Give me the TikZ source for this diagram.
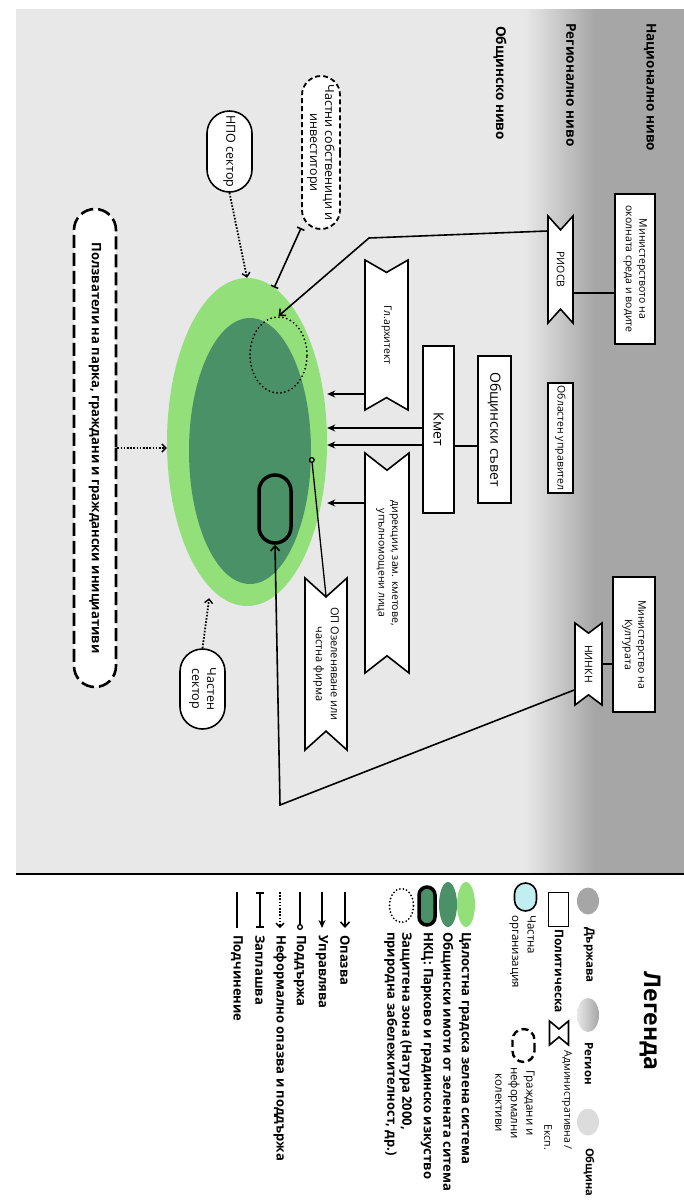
\documentclass[tikz,border=0pt]{standalone}
\usepackage{fontspec}
\setmainfont{Open Sans}
\usepackage{tikz}
\usetikzlibrary{shapes.geometric, shapes.misc, shapes.symbols, arrows.meta}
\usetikzlibrary{positioning}

\definecolor{obshtina}{HTML}{E8E8E8}
\definecolor{darzhava}{HTML}{A6A6A6}
\definecolor{zelena}{HTML}{93E07B}
\definecolor{imoti}{HTML}{4B9167}
\definecolor{chastna}{HTML}{C2EEF1}

\tikzstyle{upr} = [line width=1.6pt,-{Stealth[length=8pt,width=7pt]}]
\tikzstyle{opaz} = [line width=1.6pt,-{Straight Barb[length=5pt,width=9pt]}]
\tikzstyle{neform} = [line width=1.8pt,dash pattern=on 1.6pt off 1.6pt,-{Straight Barb[length=4pt,width=8pt,line width=1.4pt]}]
\tikzstyle{zapl} = [line width=1.6pt,{Bar[width=8pt]}-{Bar[width=8pt]}]
\tikzstyle{podd} = [line width=1.3pt,-{Circle[open,length=6pt]}]
\tikzstyle{podch} = [line width=1.6pt]
\tikzset{
  rot/.style={rotate=-90},
  polbox/.style={rot, draw, line width=1.6pt, fill=white, rectangle, inner sep=1pt, align=center,
    font=\fontsize{10.5}{13.5}\selectfont},
  admbox/.style={rot, draw, line width=1.6pt, fill=white, signal, signal to=nowhere,
    signal from=west and east, inner sep=1pt, align=center, font=\fontsize{10.5}{13.5}\selectfont},
  orgbox/.style={rot, draw, line width=1.6pt, fill=white, rounded rectangle, inner sep=1pt,
    align=center, font=\fontsize{12.5}{15}\selectfont},
  grbox/.style={orgbox, dashed},
  lvl/.style={rot, anchor=west, inner sep=0pt, font=\bfseries\fontsize{13.5}{16}\selectfont},
  leg/.style={rot, anchor=west, inner sep=0pt, align=left, font=\bfseries\fontsize{13}{15}\selectfont},
  legs/.style={leg, font=\fontsize{11.5}{15.5}\selectfont},
}

\begin{document}
\begin{tikzpicture}[x=1pt, y=-1pt]
    \useasboundingbox (0,0) rectangle (684,1200);

    % levels
    \fill[obshtina] (16,9) rectangle (684,874);
    \shade[left color=obshtina, right color=darzhava] (525,9) rectangle (595,874);
    \fill[darzhava] (595,9) rectangle (684,874);
    \draw[line width=2.5pt] (16,874) -- (684,874);

    \node[lvl] (nat) at (650,23) {Национално ниво};
    \node[lvl] (reg) at (571,23) {Регионално ниво};
    \node[lvl] (mun) at (500,26) {Общинско ниво};

    % green system
    \node[ellipse, fill=zelena, minimum width=160pt, minimum height=328pt] (gz) at (247,442) {};
    \node[ellipse, fill=imoti, minimum width=122pt, minimum height=266pt] (oi) at (250,451) {};
    \node[ellipse, draw, line width=2pt, line cap=round, dash pattern=on 0pt off 4pt,
      minimum width=57pt, minimum height=76pt] (zz) at (278.5,355) {};
    \node[draw, line width=3.5pt, rounded corners=16pt, minimum width=32pt, minimum height=68pt] (nkc) at (275,509) {};

    % national and regional
    \node[polbox, minimum width=150pt, minimum height=40pt] (minenv) at (635,269) {Министерството на\\околната среда и водите};
    \node[admbox, signal pointer angle=84, minimum width=107pt, minimum height=25pt] (riosv) at (560.5,269.5) {РИОСВ};
    \node[polbox, minimum width=110pt, minimum height=25pt] (oblast) at (560.5,438) {Областен управител};
    \node[polbox, minimum width=135pt, minimum height=42pt] (mincult) at (634,644.5) {Министерство на\\Културата};
    \node[admbox, signal pointer angle=106, minimum width=82pt, minimum height=27pt] (ninkn) at (588.5,664) {НИНКН};

    % municipality
    \node[polbox, minimum width=147pt, minimum height=33pt, font=\fontsize{14}{16}\selectfont] (obs) at (494.5,429.5) {Общински съвет};
    \node[polbox, minimum width=167pt, minimum height=31pt, font=\fontsize{14}{16}\selectfont] (kmet) at (438.5,429.5) {Кмет};
    \node[admbox, signal pointer angle=120, minimum width=150pt, minimum height=43pt] (arch) at (386.5,335) {Гл.архитект};
    \node[admbox, signal pointer angle=104, minimum width=220pt, minimum height=44pt] (dir) at (387,563) {дирекции, зам. кметове,\\упълномощени лица};
    \node[admbox, signal pointer angle=96, minimum width=172pt, minimum height=42pt, font=\fontsize{11}{15}\selectfont] (op) at (326,664) {ОП Озеленяване или\\частна фирма};

    % private and civil
    \node[grbox, line width=1.8pt, dash pattern=on 5pt off 3pt, minimum width=155pt, minimum height=38pt] (priv) at (321,152.5) {Частни собственици и\\инвеститори};
    \node[orgbox, minimum width=83pt, minimum height=45pt] (ngo) at (229.5,151.5) {НПО сектор};
    \node[orgbox, minimum width=82pt, minimum height=45pt] (psec) at (202.5,689) {Частен\\сектор};
    \node[grbox, line width=2.6pt, dash pattern=on 13pt off 5pt, minimum width=480pt, minimum height=42pt,
      font=\bfseries\fontsize{13}{15}\selectfont] (users) at (95,448) {Ползватели на парка, граждани и граждански инициативи};

    % connections
    \draw[podch] (riosv.north |- 0,293) -- (minenv.south |- 0,293);
    \coordinate (b1) at (369,238);
    \draw[opaz] (riosv.south |- 0,231) -- (b1) -- (zz.north);
    \draw[podch] (ninkn.north) -- (ninkn.north -| mincult.south);
    \coordinate (b2) at (280,805);
    \draw[opaz] (ninkn.south |- 0,690) -- (b2) -- (nkc.south);
    \draw[podch] (obs.south |- 0,446) -- (kmet.north |- 0,446);
    \draw[upr] (kmet.south |- 0,428) -- (gz.east |- 0,428);
    \draw[upr] (kmet.south |- 0,445) -- (gz.east |- 0,445);
    \draw[upr] (arch.south |- 0,394) -- (gz.east |- 0,394);
    \draw[upr] (dir.south |- 0,503) -- (gz.east |- 0,503);
    \coordinate (sp) at (311.5,457);
    \draw[podd] (op.west) -- (sp);
    \draw[zapl] (priv.south |- 0,228) -- (gz.80);
    \draw[neform] (ngo.east) -- (gz.north);
    \draw[neform] (users.north) -- (gz.west |- users.north);
    \draw[neform, shorten >=10pt] (psec.west) -- (gz.256);

    % legend
    \node[rot, font=\bfseries\fontsize{23}{26}\selectfont] (legt) at (650,1021) {Легенда};
    \node[ellipse, fill=darzhava, minimum width=22pt, minimum height=27pt] (li1) at (588,901) {};
    \node[leg, font=\bfseries\fontsize{11.5}{14}\selectfont] (lt1) at (589,927) {Държава};
    \node[ellipse, left color=obshtina, right color=darzhava, minimum width=22pt, minimum height=34pt] (li2) at (588,1015) {};
    \node[leg, font=\bfseries\fontsize{11.5}{14}\selectfont] (lt2) at (589,1042) {Регион};
    \node[ellipse, fill=obshtina!95!black, minimum width=22pt, minimum height=27pt] (li3) at (588,1122) {};
    \node[leg, font=\bfseries\fontsize{11}{14}\selectfont] (lt3) at (589,1148) {Община};

    \node[draw, line width=1.5pt, minimum width=20pt, minimum height=34pt] (li4) at (558.5,909.5) {};
    \node[leg, font=\bfseries\fontsize{12}{14}\selectfont] (lt4) at (559,929) {Политическа};
    \node[admbox, signal pointer angle=100, minimum width=24pt, minimum height=19pt, inner sep=0pt] (li5) at (559,1033) {};
    \node[legs, anchor=east, align=right, font=\fontsize{10.5}{20}\selectfont] (lt5) at (558,1150) {Административна /\\Експ.};
    \node[orgbox, fill=chastna, minimum width=30pt, minimum height=22pt] (li6) at (525.5,897) {};
    \node[legs] (lt6) at (522.5,915) {Частна\\организация};
    \node[grbox, line width=2.4pt, dash pattern=on 7pt off 4pt, minimum width=35pt, minimum height=22pt] (li7) at (523.5,1045.5) {};
    \node[legs, anchor=center, align=center] (lt7) at (515,1103) {Граждани и\\неформални\\колективи};

    \node[ellipse, fill=zelena, minimum width=18pt, minimum height=45pt] (li8) at (466,904.5) {};
    \node[leg] (lt8) at (465,932) {Цялостна градска зелена система};
    \node[ellipse, fill=imoti, minimum width=18pt, minimum height=45pt] (li9) at (448,904.5) {};
    \node[leg] (lt9) at (447,932) {Общински имоти от зелената ситема};
    \node[draw, fill=imoti, line width=3.5pt, rounded corners=8pt, minimum width=16pt, minimum height=38pt] (li10) at (427,906) {};
    \node[leg] (lt10) at (427,932) {НКЦ: Парково и градинско изкуство};
    \node[ellipse, draw, line width=2pt, line cap=round, dash pattern=on 0pt off 3.5pt,
      minimum width=24pt, minimum height=34pt] (li11) at (401.5,905.5) {};
    \node[leg] (lt11) at (398,932) {Защитена зона (Натура 2000,\\природна забележителност, др.)};

    \node[leg] (la1) at (345,935) {Опазва};
    \draw[opaz] ([yshift=43pt]la1.west) -- ([yshift=7pt]la1.west);
    \node[leg] (la2) at (322,935) {Управлява};
    \draw[upr] ([yshift=43pt]la2.west) -- ([yshift=7pt]la2.west);
    \node[leg] (la3) at (300,935) {Поддържа};
    \draw[podd] ([yshift=43pt]la3.west) -- ([yshift=5pt]la3.west);
    \node[leg] (la4) at (280,935) {Неформално опазва и поддържа};
    \draw[neform] ([yshift=43pt]la4.west) -- ([yshift=7pt]la4.west);
    \node[leg] (la5) at (260,935) {Заплашва};
    \draw[zapl] ([yshift=43pt]la5.west) -- ([yshift=7pt]la5.west);
    \node[leg] (la6) at (237,935) {Подчинение};
    \draw[podch] ([yshift=43pt]la6.west) -- ([yshift=7pt]la6.west);
\end{tikzpicture}
\end{document}
